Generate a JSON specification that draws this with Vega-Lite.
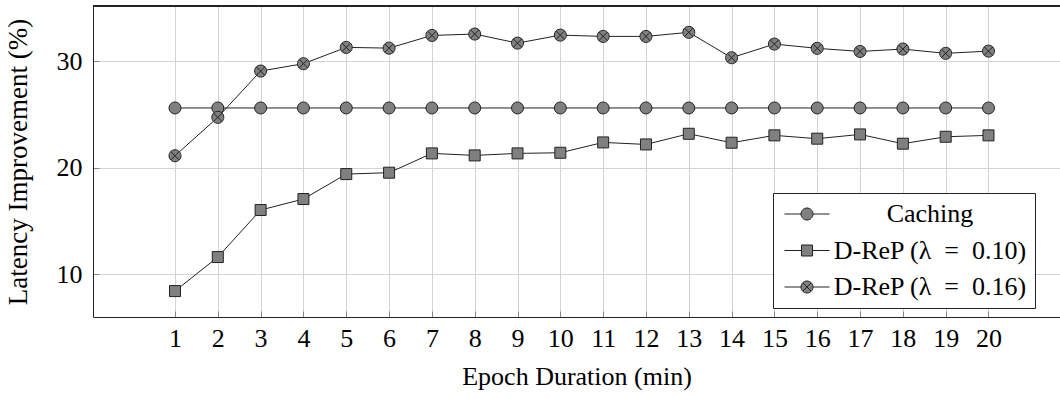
{
  "$schema": "https://vega.github.io/schema/vega-lite/v6.json",
  "width": 967,
  "height": 311,
  "autosize": {"type": "none"},
  "padding": {"left": 93, "top": 6, "right": 0, "bottom": 82},
  "background": "white",
  "config": {
    "font": "Liberation Serif",
    "view": {"stroke": null},
    "axis": {
      "labelFont": "Liberation Serif", "titleFont": "Liberation Serif",
      "labelFontSize": 26, "titleFontSize": 26,
      "labelColor": "#000", "titleColor": "#000", "titleFontWeight": "normal",
      "gridColor": "#d4d4d4", "gridWidth": 1,
      "domain": true, "domainColor": "#222", "domainWidth": 1,
      "tickColor": "#888", "tickSize": -6
    },
    "legend": {
      "orient": "none", "legendX": 680, "legendY": 187,
      "strokeColor": "#222", "fillColor": "white", "padding": 8, "cornerRadius": 0,
      "labelFont": "Liberation Serif", "labelFontSize": 26, "labelColor": "#000",
      "symbolSize": 400, "symbolStrokeWidth": 1,
      "symbolOffset": 13, "labelAlign": "center", "labelOffset": 110,
      "rowPadding": 10.5, "labelLimit": 0
    }
  },
  "data": {"values": [
    {"x": 1, "series": "Caching", "v": 25.6},
    {"x": 2, "series": "Caching", "v": 25.6},
    {"x": 3, "series": "Caching", "v": 25.6},
    {"x": 4, "series": "Caching", "v": 25.6},
    {"x": 5, "series": "Caching", "v": 25.6},
    {"x": 6, "series": "Caching", "v": 25.6},
    {"x": 7, "series": "Caching", "v": 25.6},
    {"x": 8, "series": "Caching", "v": 25.6},
    {"x": 9, "series": "Caching", "v": 25.6},
    {"x": 10, "series": "Caching", "v": 25.6},
    {"x": 11, "series": "Caching", "v": 25.6},
    {"x": 12, "series": "Caching", "v": 25.6},
    {"x": 13, "series": "Caching", "v": 25.6},
    {"x": 14, "series": "Caching", "v": 25.6},
    {"x": 15, "series": "Caching", "v": 25.6},
    {"x": 16, "series": "Caching", "v": 25.6},
    {"x": 17, "series": "Caching", "v": 25.6},
    {"x": 18, "series": "Caching", "v": 25.6},
    {"x": 19, "series": "Caching", "v": 25.6},
    {"x": 20, "series": "Caching", "v": 25.6},
    {"x": 1, "series": "D-ReP (λ\u2002=\u20020.10)", "v": 8.43},
    {"x": 2, "series": "D-ReP (λ\u2002=\u20020.10)", "v": 11.62},
    {"x": 3, "series": "D-ReP (λ\u2002=\u20020.10)", "v": 16.03},
    {"x": 4, "series": "D-ReP (λ\u2002=\u20020.10)", "v": 17.06},
    {"x": 5, "series": "D-ReP (λ\u2002=\u20020.10)", "v": 19.40},
    {"x": 6, "series": "D-ReP (λ\u2002=\u20020.10)", "v": 19.53},
    {"x": 7, "series": "D-ReP (λ\u2002=\u20020.10)", "v": 21.34},
    {"x": 8, "series": "D-ReP (λ\u2002=\u20020.10)", "v": 21.15},
    {"x": 9, "series": "D-ReP (λ\u2002=\u20020.10)", "v": 21.34},
    {"x": 10, "series": "D-ReP (λ\u2002=\u20020.10)", "v": 21.40},
    {"x": 11, "series": "D-ReP (λ\u2002=\u20020.10)", "v": 22.37},
    {"x": 12, "series": "D-ReP (λ\u2002=\u20020.10)", "v": 22.18},
    {"x": 13, "series": "D-ReP (λ\u2002=\u20020.10)", "v": 23.18},
    {"x": 14, "series": "D-ReP (λ\u2002=\u20020.10)", "v": 22.34},
    {"x": 15, "series": "D-ReP (λ\u2002=\u20020.10)", "v": 23.03},
    {"x": 16, "series": "D-ReP (λ\u2002=\u20020.10)", "v": 22.72},
    {"x": 17, "series": "D-ReP (λ\u2002=\u20020.10)", "v": 23.12},
    {"x": 18, "series": "D-ReP (λ\u2002=\u20020.10)", "v": 22.25},
    {"x": 19, "series": "D-ReP (λ\u2002=\u20020.10)", "v": 22.90},
    {"x": 20, "series": "D-ReP (λ\u2002=\u20020.10)", "v": 23.03},
    {"x": 1, "series": "D-ReP (λ\u2002=\u20020.16)", "v": 21.12},
    {"x": 2, "series": "D-ReP (λ\u2002=\u20020.16)", "v": 24.72},
    {"x": 3, "series": "D-ReP (λ\u2002=\u20020.16)", "v": 29.06},
    {"x": 4, "series": "D-ReP (λ\u2002=\u20020.16)", "v": 29.75},
    {"x": 5, "series": "D-ReP (λ\u2002=\u20020.16)", "v": 31.28},
    {"x": 6, "series": "D-ReP (λ\u2002=\u20020.16)", "v": 31.21},
    {"x": 7, "series": "D-ReP (λ\u2002=\u20020.16)", "v": 32.40},
    {"x": 8, "series": "D-ReP (λ\u2002=\u20020.16)", "v": 32.53},
    {"x": 9, "series": "D-ReP (λ\u2002=\u20020.16)", "v": 31.68},
    {"x": 10, "series": "D-ReP (λ\u2002=\u20020.16)", "v": 32.43},
    {"x": 11, "series": "D-ReP (λ\u2002=\u20020.16)", "v": 32.31},
    {"x": 12, "series": "D-ReP (λ\u2002=\u20020.16)", "v": 32.31},
    {"x": 13, "series": "D-ReP (λ\u2002=\u20020.16)", "v": 32.69},
    {"x": 14, "series": "D-ReP (λ\u2002=\u20020.16)", "v": 30.31},
    {"x": 15, "series": "D-ReP (λ\u2002=\u20020.16)", "v": 31.59},
    {"x": 16, "series": "D-ReP (λ\u2002=\u20020.16)", "v": 31.19},
    {"x": 17, "series": "D-ReP (λ\u2002=\u20020.16)", "v": 30.90},
    {"x": 18, "series": "D-ReP (λ\u2002=\u20020.16)", "v": 31.12},
    {"x": 19, "series": "D-ReP (λ\u2002=\u20020.16)", "v": 30.72},
    {"x": 20, "series": "D-ReP (λ\u2002=\u20020.16)", "v": 30.93}
  ]},
  "encoding": {
    "x": {"field": "x", "type": "quantitative",
      "scale": {"domain": [-0.915, 21.67], "nice": false, "zero": false},
      "axis": {"values": [1,2,3,4,5,6,7,8,9,10,11,12,13,14,15,16,17,18,19,20], "title": "Epoch Duration (min)", "labelPadding": 14, "titlePadding": 12, "labelFlush": false}},
    "y": {"field": "v", "type": "quantitative",
      "scale": {"domain": [6.0, 35.16], "nice": false, "zero": false},
      "axis": {"values": [10, 20, 30], "title": "Latency Improvement (%)", "titleFontSize": 27, "labelPadding": 17, "titlePadding": 24}}
  },
  "layer": [
    {"mark": {"type": "rule", "color": "#222", "strokeWidth": 1},
     "encoding": {"x": null, "y": {"datum": 35.16}}},
    {"mark": {"type": "line", "color": "#222", "strokeWidth": 1},
     "encoding": {"detail": {"field": "series"}}},
    {"transform": [{"filter": "datum.series === 'Caching'"}],
     "mark": {"type": "point", "shape": "circle", "filled": true, "fill": "#808080", "stroke": "#222", "strokeWidth": 1, "size": 144, "opacity": 1}},
    {"transform": [{"filter": "indexof(datum.series, '0.10') >= 0"}],
     "mark": {"type": "point", "shape": "square", "filled": true, "fill": "#808080", "stroke": "#222", "strokeWidth": 1, "size": 121, "opacity": 1}},
    {"transform": [{"filter": "indexof(datum.series, '0.16') >= 0"}],
     "mark": {"type": "point", "shape": "M-1,0A1,1 0 1,0 1,0A1,1 0 1,0 -1,0Z M-0.707,-0.707L0.707,0.707M-0.707,0.707L0.707,-0.707", "filled": true, "fill": "#808080", "stroke": "#222", "strokeWidth": 1, "size": 144, "opacity": 1}},
    {"mark": {"type": "point", "filled": true, "fill": "#808080", "stroke": "#222", "strokeWidth": 1, "size": 0, "opacity": 1},
     "encoding": {"shape": {"field": "series", "type": "nominal",
       "scale": {"range": [
         "M-2.25,0H-0.6M0.6,0H2.25M-0.6,0A0.6,0.6 0 1,0 0.6,0A0.6,0.6 0 1,0 -0.6,0Z",
         "M-2.25,0H-0.55M0.55,0H2.25M-0.55,-0.55H0.55V0.55H-0.55Z",
         "M-2.25,0H-0.6M0.6,0H2.25M-0.6,0A0.6,0.6 0 1,0 0.6,0A0.6,0.6 0 1,0 -0.6,0ZM-0.424,-0.424L0.424,0.424M-0.424,0.424L0.424,-0.424"]},
       "legend": {"title": null, "symbolSize": 400,
         "encode": {"symbols": {
           "fill": {"value": "#808080"},
           "stroke": {"value": "#222"},
           "strokeWidth": {"value": 1},
           "size": {"value": 400}
         }}}}}}
  ]
}
